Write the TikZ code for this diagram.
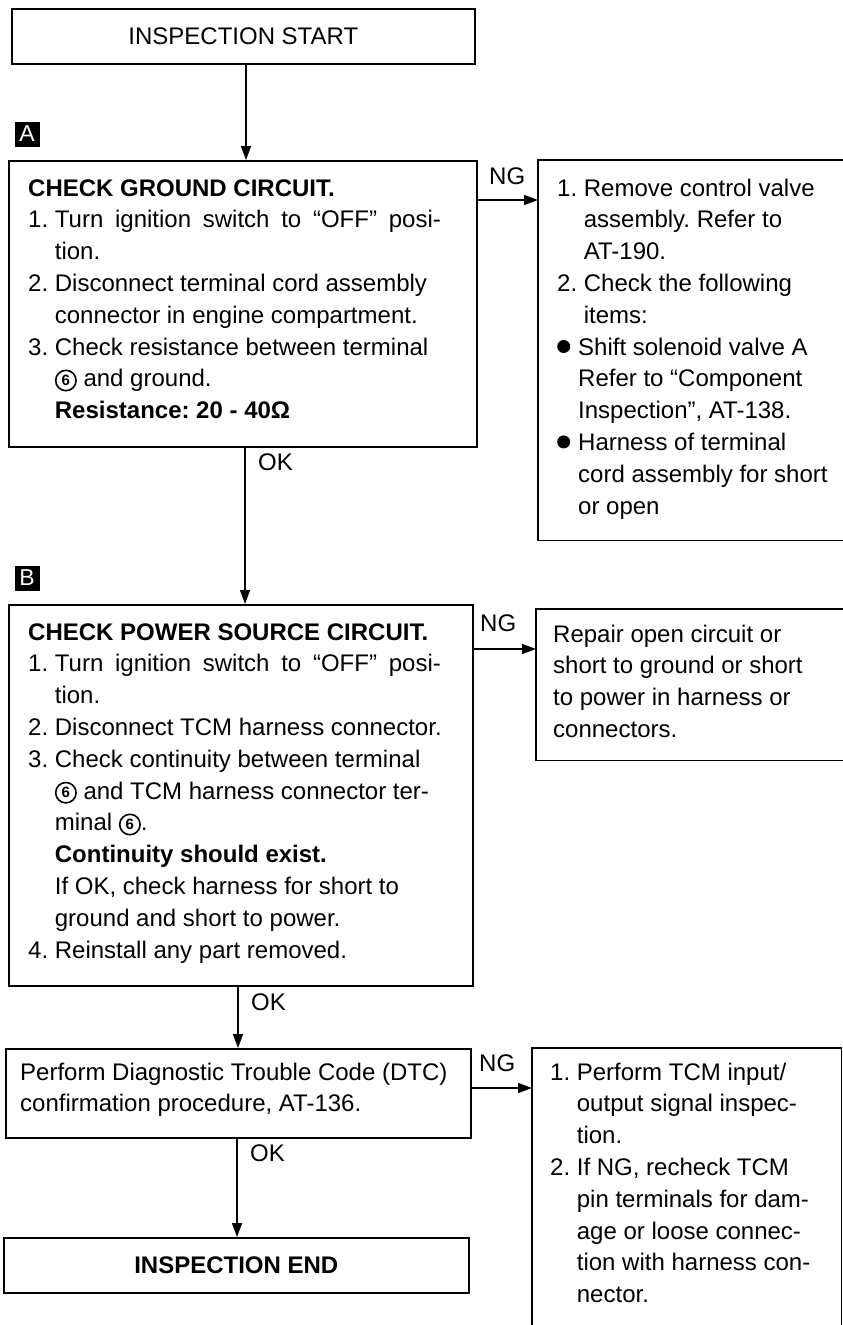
\documentclass[tikz,border=0pt]{standalone}
\usepackage{fontspec}
\setmainfont{Liberation Sans}
\usetikzlibrary{arrows.meta,calc}
\newcommand{\cnum}[1]{\tikz[baseline=0pt]{\draw[line width=1.6pt] (11pt,6.3pt) circle (10.2pt); \node[anchor=center, inner sep=0pt, font=\fontsize{15}{15}\selectfont\bfseries] (c6) at (11pt,6.3pt) {#1};}}
\newcommand{\bul}{\makebox[21pt][l]{\tikz[baseline=0pt]\fill (6.5pt,8.5pt) circle (6.5pt);}}
\newcommand{\bulind}{\hspace*{21pt}}
\newcommand{\ind}{\hphantom{1.\ }}
\newcommand{\jline}[2]{\makebox[#1][s]{#2}}
\tikzset{
  box/.style={draw, line width=1.6pt, inner sep=0pt, anchor=north west},
  rframe/.style={draw=none, inner sep=0pt, anchor=north west},
  txt/.style={inner sep=0pt, anchor=base west, font=\fontsize{24}{31.8}\selectfont\frenchspacing},
  lbl/.style={inner sep=0pt, anchor=west, font=\fontsize{24}{24}\selectfont},
  tagbox/.style={fill=black, text=white, inner sep=0pt, minimum width=25pt, minimum height=25pt, font=\fontsize{23}{23}\selectfont},
  arr/.style={line width=1.5pt, -{Triangle[length=14pt,width=10pt]}}
}
\begin{document}
\begin{tikzpicture}[x=1pt,y=-1pt]
\useasboundingbox (0,0) rectangle (843,1325);
\fill[white] (0,0) rectangle (843,1325);

% main boxes
\node[box, minimum width=463pt, minimum height=55pt, font=\fontsize{24}{24}\selectfont] (start) at (11,8) {INSPECTION START};
\node[box, minimum width=468pt, minimum height=286pt] (boxA) at (8,160) {};
\node[box, minimum width=464pt, minimum height=381pt] (boxB) at (8,604) {};
\node[box, minimum width=465pt, minimum height=89pt] (dtc) at (5,1048) {};
\node[box, minimum width=465pt, minimum height=55pt, font=\fontsize{24}{24}\selectfont\bfseries] (endb) at (3,1237) {INSPECTION END};

% right boxes (open on the page edge)
\node[rframe, minimum width=305pt, minimum height=380pt] (r1) at (538,160) {};
\node[rframe, minimum width=307pt, minimum height=151pt] (r2) at (536,609) {};
\node[rframe, minimum width=309pt, minimum height=277pt] (r3) at (532,1048) {};
\draw[line width=1.6pt] (r1.north east) -- (r1.north west) -- (r1.south west) -- (r1.south east);
\draw[line width=1.6pt] (r2.north east) -- (r2.north west) -- (r2.south west) -- (r2.south east);
\draw[line width=1.6pt] (r3.south west) -- (r3.north west) -- (r3.north east) -- (r3.south east);

% tags
\node[tagbox] (tagA) at (27,134) {A};
\node[tagbox] (tagB) at (27,578) {B};

% texts
\node[txt] (tA) at (28,196) {\parbox[t]{450pt}{\raggedright
\textbf{CHECK GROUND CIRCUIT.}\\
1. \jline{386pt}{Turn ignition switch to “OFF” posi-}\\
\ind tion.\\
2. Disconnect terminal cord assembly\\
\ind connector in engine compartment.\\
3. Check resistance between terminal\\
\ind \cnum{6} and ground.\\
\ind \textbf{Resistance: 20 - 40Ω}}};

\node[txt] (tr1) at (557,196) {\parbox[t]{290pt}{\raggedright
1. Remove control valve\\
\ind assembly. Refer to\\
\ind AT-190.\\
2. Check the following\\
\ind items:\\
\bul Shift solenoid valve A\\
\bulind Refer to “Component\\
\bulind Inspection”, AT-138.\\
\bul Harness of terminal\\
\bulind cord assembly for short\\
\bulind or open}};

\node[txt] (tB) at (28,640) {\parbox[t]{450pt}{\raggedright
\textbf{CHECK POWER SOURCE CIRCUIT.}\\
1. \jline{386pt}{Turn ignition switch to “OFF” posi-}\\
\ind tion.\\
2. Disconnect TCM harness connector.\\
3. Check continuity between terminal\\
\ind \cnum{6} and TCM harness connector ter-\\
\ind minal \cnum{6}.\\
\ind \textbf{Continuity should exist.}\\
\ind If OK, check harness for short to\\
\ind ground and short to power.\\
4. Reinstall any part removed.}};

\node[txt] (tr2) at (553,642) {\parbox[t]{290pt}{\raggedright
Repair open circuit or\\
short to ground or short\\
to power in harness or\\
connectors.}};

\node[txt] (tdtc) at (20,1080) {\parbox[t]{450pt}{\raggedright
Perform Diagnostic Trouble Code (DTC)\\
confirmation procedure, AT-136.}};

\node[txt] (tr3) at (550,1080) {\parbox[t]{290pt}{\raggedright
1. Perform TCM input/\\
\ind output signal inspec-\\
\ind tion.\\
2. If NG, recheck TCM\\
\ind pin terminals for dam-\\
\ind age or loose connec-\\
\ind tion with harness con-\\
\ind nector.}};

% vertical connectors
\coordinate (x1) at (246,0);
\coordinate (x2) at (245,0);
\coordinate (x3) at (238,0);
\coordinate (x4) at (237,0);
\draw[arr] (start.south -| x1) -- (boxA.north -| x1);
\draw[arr] (boxA.south -| x2) -- (boxB.north -| x2);
\draw[arr] (boxB.south -| x3) -- (dtc.north -| x3);
\draw[arr] (dtc.south -| x4) -- (endb.north -| x4);
\node[lbl] (ok1) at (258,462) {OK};
\node[lbl] (ok2) at (251,1002) {OK};
\node[lbl] (ok3) at (250,1153) {OK};

% horizontal NG connectors
\coordinate (y1) at (0,200);
\coordinate (y2) at (0,649);
\coordinate (y3) at (0,1088);
\draw[arr] (boxA.east |- y1) -- (r1.west |- y1);
\draw[arr] (boxB.east |- y2) -- (r2.west |- y2);
\draw[arr] (dtc.east |- y3) -- (r3.west |- y3);
\node[lbl] (ng1) at (489,176) {NG};
\node[lbl] (ng2) at (480,623) {NG};
\node[lbl] (ng3) at (479,1063) {NG};
\end{tikzpicture}
\end{document}
